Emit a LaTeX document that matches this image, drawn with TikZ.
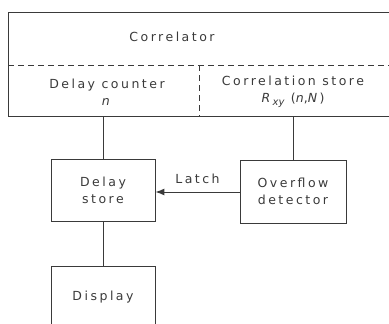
\documentclass[tikz,border=0pt]{standalone}
\usepackage{fontspec}
\setmainfont{DejaVu Sans}[LetterSpace=20]
\newfontfamily\plainsans{DejaVu Sans}
\usetikzlibrary{arrows.meta}
\definecolor{ink}{HTML}{3a3a3a}
\tikzset{
  blk/.style={draw=ink, line width=0.9pt},
  lbl/.style={text=ink, font=\fontsize{12.5}{17}\selectfont, align=center, inner sep=0pt},
  wire/.style={draw=ink, line width=1pt},
  sep/.style={draw=ink, line width=0.9pt, dash pattern=on 6pt off 4pt}
}
\begin{document}
\begin{tikzpicture}[x=1pt,y=-1pt]
\useasboundingbox (0,0) rectangle (389,324);
% correlator box
\draw[blk] (395,12) -- (8,12) -- (8,116) -- (395,116);
\draw[sep] (8,65) -- (392,65);
\draw[sep] (199,65) -- (199,116);
\node[lbl] (corr) at (172,37) {Correlator};
\node[lbl] (dc) at (107,92) {Delay counter\\\textit{n}};
\node[lbl] (cs) at (293,92) {Correlation store\\\textit{R}\raisebox{-3pt}{\plainsans\itshape\fontsize{10}{10}\selectfont xy} (\textit{n},\textit{N})};
\coordinate (dcb) at (103,116);
\coordinate (csb) at (293,116);
% boxes
\node[blk, lbl, minimum width=104pt, minimum height=62pt] (ds) at (103,190) {Delay\\store};
\node[blk, lbl, minimum width=106pt, minimum height=63pt] (od) at (293,191.5) {Overflow\\detector};
\draw[blk] (51,330) -- (51,266) -- (155,266) -- (155,330);
\node[lbl] (disp) at (103,297) {Display};
\coordinate (dispt) at (103,266);
% connectors
\draw[wire] (dcb) -- (ds.north);
\draw[wire] (csb) -- (od.north);
\draw[wire] (ds.south) -- (dispt);
\draw[wire, -{Latex[length=9pt,width=7pt]}] (od.west |- 0,192) -- node[lbl, above=8pt] (latch) {Latch} (ds.east |- 0,192);
\end{tikzpicture}
\end{document}
